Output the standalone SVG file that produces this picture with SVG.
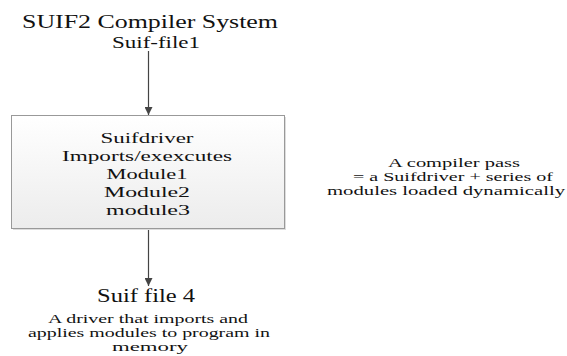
<svg xmlns="http://www.w3.org/2000/svg" width="567" height="356" viewBox="0 0 567 356">
<style>
text{font-family:"Liberation Serif","Times New Roman",Tinos,"DejaVu Serif",serif;fill:#111;text-anchor:middle}
.t{font-size:18px}
.u{font-size:16px}
.b{font-size:15px}
.s{font-size:13px}
.n{font-size:13px}
.edge{stroke:#444;stroke-width:1.2;fill:none;marker-end:url(#arr)}
</style>
<defs>
<linearGradient id="g" x1="0" y1="0" x2="0" y2="1">
<stop offset="0" stop-color="#ffffff"/>
<stop offset="1" stop-color="#ececec"/>
</linearGradient>
<marker id="arr" viewBox="0 0 10 10" refX="10" refY="5" markerWidth="8" markerHeight="8" markerUnits="userSpaceOnUse" orient="auto">
<path d="M0,0 L10,5 L0,10 z" fill="#444"/>
</marker>
</defs>
<rect width="567" height="356" fill="#fff"/>
<g id="title">
<text class="t" x="150" y="28" textLength="256" lengthAdjust="spacingAndGlyphs">SUIF2 Compiler System</text>
<text class="u" x="156" y="48" textLength="88" lengthAdjust="spacingAndGlyphs">Suif-file1</text>
</g>
<g id="connectors">
<path class="edge" d="M148.5,51 V115"/>
<path class="edge" d="M148.5,230 V286"/>
</g>
<g id="driver">
<rect x="13" y="117" width="273" height="113" fill="#ddd"/>
<rect x="11.5" y="115.5" width="273" height="113" fill="url(#g)" stroke="#999" stroke-width="1"/>
<text class="b" x="147" y="143" textLength="93" lengthAdjust="spacingAndGlyphs">Suifdriver</text>
<text class="b" x="147" y="161" textLength="170" lengthAdjust="spacingAndGlyphs">Imports/exexcutes</text>
<text class="b" x="147" y="179" textLength="81" lengthAdjust="spacingAndGlyphs">Module1</text>
<text class="b" x="147" y="197" textLength="86" lengthAdjust="spacingAndGlyphs">Module2</text>
<text class="b" x="148" y="215" textLength="84" lengthAdjust="spacingAndGlyphs">module3</text>
</g>
<g id="output">
<text class="t" x="146" y="302" textLength="98" lengthAdjust="spacingAndGlyphs">Suif file 4</text>
<text class="s" x="148" y="323" textLength="200" lengthAdjust="spacingAndGlyphs">A driver that imports and</text>
<text class="s" x="149" y="337" textLength="242" lengthAdjust="spacingAndGlyphs">applies modules to program in</text>
<text class="s" x="150" y="351" textLength="76" lengthAdjust="spacingAndGlyphs">memory</text>
</g>
<g id="note">
<text class="n" x="454" y="167" textLength="132" lengthAdjust="spacingAndGlyphs">A compiler pass</text>
<text class="n" x="453" y="181" textLength="200" lengthAdjust="spacingAndGlyphs">= a Suifdriver + series of</text>
<text class="n" x="446" y="195" textLength="238" lengthAdjust="spacingAndGlyphs">modules loaded dynamically</text>
</g>
</svg>
